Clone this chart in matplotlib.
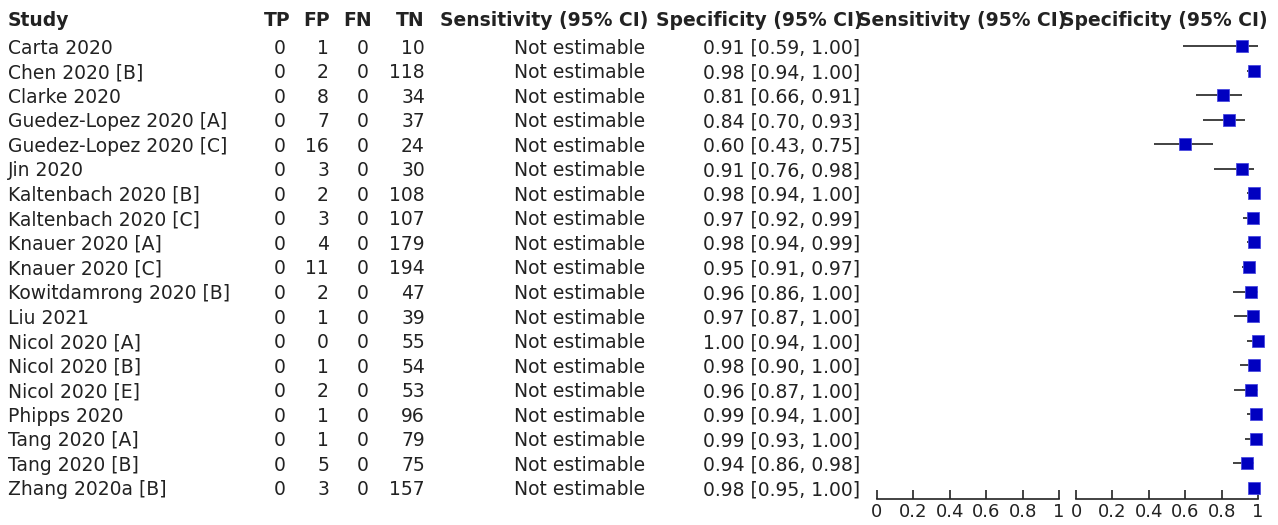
import numpy as np
import matplotlib
matplotlib.use('Agg')
import matplotlib.pyplot as plt

studies = ['Carta 2020', 'Chen 2020 [B]', 'Clarke 2020', 'Guedez-Lopez 2020 [A]',
           'Guedez-Lopez 2020 [C]', 'Jin 2020', 'Kaltenbach 2020 [B]', 'Kaltenbach 2020 [C]',
           'Knauer 2020 [A]', 'Knauer 2020 [C]', 'Kowitdamrong 2020 [B]', 'Liu 2021',
           'Nicol 2020 [A]', 'Nicol 2020 [B]', 'Nicol 2020 [E]', 'Phipps 2020',
           'Tang 2020 [A]', 'Tang 2020 [B]', 'Zhang 2020a [B]']
tp = [0] * 19
fp = [1, 2, 8, 7, 16, 3, 2, 3, 4, 11, 2, 1, 0, 1, 2, 1, 1, 5, 3]
fn = [0] * 19
tn = [10, 118, 34, 37, 24, 30, 108, 107, 179, 194, 47, 39, 55, 54, 53, 96, 79, 75, 157]
spec = [0.91, 0.98, 0.81, 0.84, 0.60, 0.91, 0.98, 0.97, 0.98, 0.95, 0.96, 0.97, 1.00, 0.98,
        0.96, 0.99, 0.99, 0.94, 0.98]
spec_lo = [0.59, 0.94, 0.66, 0.70, 0.43, 0.76, 0.94, 0.92, 0.94, 0.91, 0.86, 0.87, 0.94, 0.90,
           0.87, 0.94, 0.93, 0.86, 0.95]
spec_hi = [1.00, 1.00, 0.91, 0.93, 0.75, 0.98, 1.00, 0.99, 0.99, 0.97, 1.00, 1.00, 1.00, 1.00,
           1.00, 1.00, 1.00, 0.98, 1.00]
ticks = [0, 0.2, 0.4, 0.6, 0.8, 1]
tick_labels = ['0', '0.2', '0.4', '0.6', '0.8', '1']

W, H = 1278, 525
fig = plt.figure(figsize=(W / 100, H / 100), dpi=100)
plt.rcParams['font.family'] = 'DejaVu Sans'
txt = '#222222'
fs = 13.5

# table text drawn in pixel coords on a full-figure axes
tab = fig.add_axes([0, 0, 1, 1])
tab.set_xlim(0, W); tab.set_ylim(H, 0); tab.axis('off')

y0, dy = 46, 24.55
hy = 18
hdr = dict(fontsize=fs, fontweight='bold', color=txt, va='center_baseline')
tab.text(8, hy, 'Study', ha='left', **hdr)
for x, s in [(290, 'TP'), (330, 'FP'), (372, 'FN'), (425, 'TN'),
             (648, 'Sensitivity (95% CI)'), (863, 'Specificity (95% CI)'),
             (1066, 'Sensitivity (95% CI)'), (1268, 'Specificity (95% CI)')]:
    tab.text(x, hy, s, ha='right', **hdr)

row = dict(fontsize=fs, color=txt, va='center_baseline')
for i, s in enumerate(studies):
    y = y0 + dy * i
    tab.text(8, y, s, ha='left', **row)
    tab.text(286, y, str(tp[i]), ha='right', **row)
    tab.text(329, y, str(fp[i]), ha='right', **row)
    tab.text(369, y, str(fn[i]), ha='right', **row)
    tab.text(425, y, str(tn[i]), ha='right', **row)
    tab.text(645, y, 'Not estimable', ha='right', **row)
    tab.text(860, y, f'{spec[i]:.2f} [{spec_lo[i]:.2f}, {spec_hi[i]:.2f}]', ha='right', **row)

# forest axes
top, bot = 30, 499
ylim = ((bot - y0) / dy, (top - y0) / dy)
rows = np.arange(len(studies))
axes = []
for left in (877, 1076):
    ax = fig.add_axes([left / W, 1 - bot / H, 182 / W, (bot - top) / H])
    ax.set_xlim(0, 1); ax.set_ylim(*ylim)
    ax.patch.set_alpha(0)
    for s in ('top', 'left', 'right'):
        ax.spines[s].set_visible(False)
    ax.spines['bottom'].set_color('#222222'); ax.spines['bottom'].set_linewidth(1.2)
    ax.set_yticks([])
    ax.set_xticks(ticks, tick_labels)
    ax.set_xticks(ticks, minor=True)
    ax.tick_params(axis='x', which='major', direction='in', length=6.5, width=1.2,
                   color='#222222', labelsize=13, labelcolor=txt, pad=3)
    ax.tick_params(axis='x', which='minor', direction='out', length=3, width=1.2,
                   color='#222222', labelbottom=False)
    axes.append(ax)

ax = axes[1]
ax.hlines(rows, spec_lo, spec_hi, color='#333333', lw=1.3, zorder=2)
ax.plot(spec, rows, 's', ms=8.5, color='#0000c0', mec='#4a4ae0', mew=0.6, zorder=3, clip_on=False)

fig.savefig('out.png', dpi=100)
